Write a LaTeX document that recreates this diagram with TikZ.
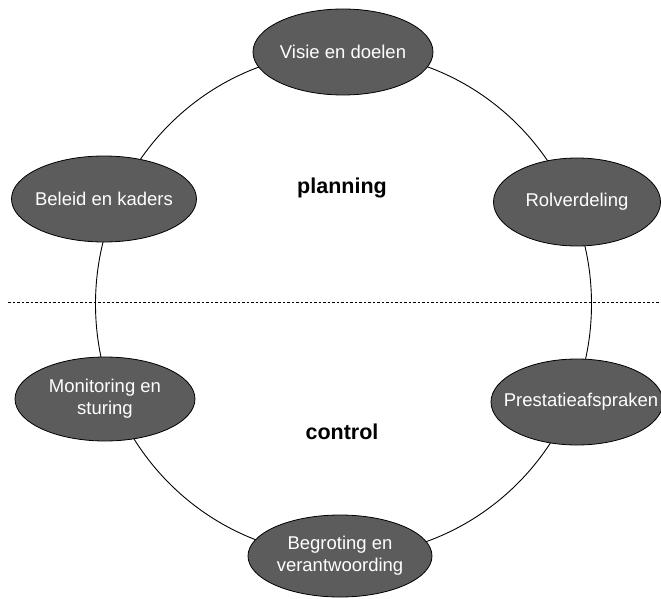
\documentclass[tikz,border=0pt]{standalone}
\usepackage{fontspec}
\setmainfont{Liberation Sans}
\usetikzlibrary{shapes.geometric}
\definecolor{ovalfill}{gray}{0.36}
\tikzset{
  oval/.style={ellipse, draw=black, line width=0.8pt, fill=ovalfill,
    inner sep=0pt},
  ovaltext/.style={text=white, align=center, inner sep=0pt,
    font=\fontsize{18.5}{22}\selectfont},
  phase/.style={font=\fontsize{21.5}{24}\selectfont\bfseries, text=black},
  ring/.style={line width=0.9pt, draw=black},
  divider/.style={line width=1pt, dash pattern=on 2.5pt off 2pt}
}
\begin{document}
\begin{tikzpicture}[x=1pt, y=-1pt]
\useasboundingbox (0,0) rectangle (661,599);
% ring
\coordinate (ringc) at (343.5,304);
\draw[ring] (ringc) ellipse [x radius=248, y radius=252];
% divider
\coordinate (divL) at (8,302);
\coordinate (divR) at (661,302);
\draw[divider] (divL) -- (divR);
% ovals
\node[oval, minimum width=180, minimum height=86,
  label={[ovaltext]center:Visie en doelen}] (visie) at (343,52) {};
\node[oval, minimum width=185, minimum height=86,
  label={[ovaltext]center:Beleid en kaders}] (beleid) at (104,199) {};
\node[oval, minimum width=167, minimum height=88,
  label={[ovaltext]center:Rolverdeling}] (rol) at (577,202) {};
\node[oval, minimum width=180, minimum height=84,
  label={[ovaltext]center:{Monitoring en\\sturing}}] (monitor) at (105,399) {};
\node[oval, minimum width=172, minimum height=86,
  label={[ovaltext, xshift=4pt]center:Prestatieafspraken}] (prest) at (577,402) {};
\node[oval, minimum width=184, minimum height=82,
  label={[ovaltext]center:{Begroting en\\verantwoording}}] (begr) at (340,556) {};
% phase labels
\node[phase] (planning) at (342,188) {planning};
\node[phase] (control) at (342,432) {control};
\end{tikzpicture}
\end{document}
